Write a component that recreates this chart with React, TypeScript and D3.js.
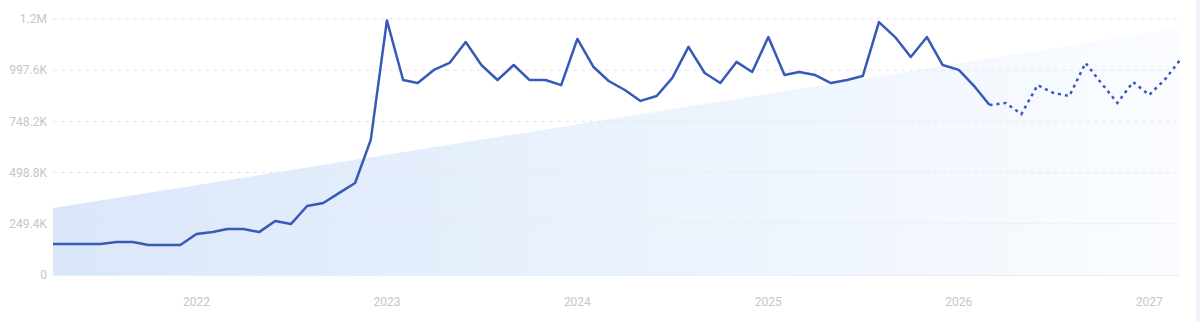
import React from "react";
import * as d3 from "d3";

const startMonth = "2021-04";
const actualValues = [
  151, 151, 151, 151, 161, 161, 146, 146, 146, 200, 209, 224, 224, 209, 263, 248,
  336, 351, 399, 448, 658, 1240, 950, 935, 999, 1033, 1135, 1023, 950, 1023, 950, 950,
  925, 1150, 1013, 945, 901, 848, 872, 960, 1111, 984, 935, 1038, 989, 1159, 974, 989,
  974, 935, 950, 969, 1232, 1159, 1062, 1159, 1023, 999, 916, 828,
];
const forecastValues = [828, 838, 784, 925, 887, 872, 1033, 935, 838, 940, 877, 955, 1047];
const trendValues = [326, 1203];
const yTicks = [0, 249.4, 498.8, 748.2, 997.6, 1247];
const xTickYears = [2022, 2023, 2024, 2025, 2026, 2027];

const W = 1200;
const H = 321;
const M = { left: 53, right: 1180, top: 19, bottom: 275 };

function monthDate(i: number) {
  const [y, m] = startMonth.split("-").map(Number);
  return new Date(y, m - 1 + i, 1);
}

function fmt(v: number) {
  if (v === 0) return "0";
  if (v >= 1000) return `${(v / 1000).toFixed(1)}M`;
  return `${v.toFixed(1)}K`;
}

export default function App() {
  const totalMonths = actualValues.length - 1 + forecastValues.length;
  const x = d3
    .scaleTime()
    .domain([monthDate(0), monthDate(totalMonths - 1)])
    .range([M.left, M.right]);
  const y = d3.scaleLinear().domain([0, 1247]).range([M.bottom, M.top]);

  const actual = actualValues.map((v, i) => ({ d: monthDate(i), v }));
  const forecast = forecastValues.map((v, i) => ({ d: monthDate(actualValues.length - 1 + i), v }));
  const trend = [
    { d: monthDate(0), v: trendValues[0] },
    { d: monthDate(totalMonths - 1), v: trendValues[1] },
  ];

  const line = d3
    .line<{ d: Date; v: number }>()
    .x((p) => x(p.d))
    .y((p) => y(p.v));
  const area = d3
    .area<{ d: Date; v: number }>()
    .x((p) => x(p.d))
    .y0(y(0))
    .y1((p) => y(p.v));

  const font = "Roboto, 'Open Sans', sans-serif";

  return (
    <div style={{ position: "absolute", left: 0, top: 0 }}>
      <svg width={W} height={H} style={{ display: "block", background: "#fff" }}>
        <defs>
          <linearGradient id="trendGrad" x1="0" x2="1" y1="0" y2="0">
            <stop offset="0%" stopColor="#dae7fa" />
            <stop offset="60%" stopColor="#edf4fd" />
            <stop offset="100%" stopColor="#fafcff" />
          </linearGradient>
        </defs>
        <path d={area(trend) || ""} fill="url(#trendGrad)" />
        {yTicks.map((t) => (
          <g key={t}>
            {t > 0 && (
              <line
                x1={M.left}
                x2={M.right}
                y1={y(t)}
                y2={y(t)}
                stroke="#e6e6e6"
                strokeWidth={1}
                strokeDasharray="4,4"
              />
            )}
            <text
              x={47}
              y={y(t)}
              dy="0.35em"
              textAnchor="end"
              fontFamily={font}
              fontSize={12}
              fill="#c6c6c6"
            >
              {fmt(t)}
            </text>
          </g>
        ))}
        <line x1={M.left} x2={M.right} y1={y(0) + 0.5} y2={y(0) + 0.5} stroke="#e9eff7" strokeWidth={1} />
        {xTickYears.map((yr) => (
          <text
            key={yr}
            x={x(new Date(yr, 0, 1))}
            y={306}
            textAnchor="middle"
            fontFamily={font}
            fontSize={12}
            fill="#c6c6c6"
          >
            {yr}
          </text>
        ))}
        <path
          d={line(actual) || ""}
          fill="none"
          stroke="#3759b8"
          strokeWidth={2.5}
          strokeLinejoin="round"
        />
        <path
          d={line(forecast) || ""}
          fill="none"
          stroke="#3759b8"
          strokeWidth={2.5}
          strokeDasharray="3,4"
        />
        <rect x={1196} y={0} width={4} height={H} fill="#eef3f9" />
      </svg>
    </div>
  );
}
